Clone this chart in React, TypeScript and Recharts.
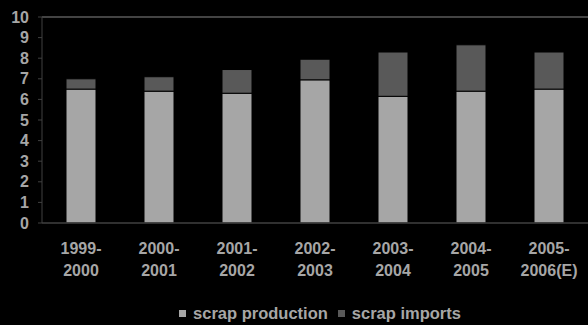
import { BarChart, Bar, XAxis, YAxis, ReferenceLine, Legend } from "recharts";

const years = [
  "1999-|2000",
  "2000-|2001",
  "2001-|2002",
  "2002-|2003",
  "2003-|2004",
  "2004-|2005",
  "2005-|2006(E)",
];
const production = [6.5, 6.4, 6.3, 6.95, 6.15, 6.4, 6.5];
const imports = [0.5, 0.7, 1.15, 1.0, 2.15, 2.25, 1.8];
const yTicks = [0, 1, 2, 3, 4, 5, 6, 7, 8, 9, 10];

const data = years.map((year, i) => ({
  year,
  production: production[i],
  imports: imports[i],
}));

const FONT = '"Liberation Sans", Arial, sans-serif';
const TEXT = "#a6a6a6";

function YearTick({ x, y, payload }: any) {
  const [a, b] = String(payload.value).split("|");
  return (
    <text
      x={x}
      y={y}
      textAnchor="middle"
      fill={TEXT}
      fontSize={16}
      fontWeight="bold"
      fontFamily={FONT}
    >
      <tspan x={x} dy={31}>
        {a}
      </tspan>
      <tspan x={x} dy={21.5}>
        {b}
      </tspan>
    </text>
  );
}

function LegendBox() {
  const items = [
    { label: "scrap production", color: "#a6a6a6" },
    { label: "scrap imports", color: "#595959" },
  ];
  return (
    <div
      style={{
        display: "flex",
        justifyContent: "center",
        alignItems: "center",
        paddingTop: 19,
        paddingLeft: 52,
        fontFamily: FONT,
        fontSize: 16.5,
        fontWeight: "bold",
        color: TEXT,
        lineHeight: "18px",
      }}
    >
      {items.map((it, i) => (
        <span
          key={it.label}
          style={{
            display: "flex",
            alignItems: "center",
            marginRight: i === 0 ? 10 : 0,
          }}
        >
          <span
            style={{
              width: 7,
              height: 7,
              background: it.color,
              marginRight: 7,
              display: "inline-block",
            }}
          />
          {it.label}
        </span>
      ))}
    </div>
  );
}

export default function App() {
  document.body.style.margin = "0";
  document.body.style.background = "#000";
  return (
    <div style={{ width: 588, height: 325, background: "#000" }}>
      <BarChart
        width={588}
        height={325}
        data={data}
        margin={{ top: 17, right: 0, left: 0, bottom: 0 }}
        barSize={30}
      >
        <XAxis
          dataKey="year"
          tick={<YearTick />}
          tickLine={false}
          tickSize={0}
          tickMargin={0}
          interval={0}
          height={62}
          axisLine={{ stroke: "#404040", strokeWidth: 1.5 }}
        />
        <YAxis
          domain={[0, 10]}
          ticks={yTicks}
          width={42}
          interval={0}
          tickSize={4}
          tickMargin={9}
          axisLine={{ stroke: "#404040" }}
          tickLine={{ stroke: "#404040" }}
          tick={{
            fill: TEXT,
            fontSize: 16,
            fontWeight: "bold",
            fontFamily: FONT,
          }}
        />
        <ReferenceLine y={10} stroke="#5a5a5a" strokeWidth={1.5} />
        <Legend
          verticalAlign="bottom"
          height={40}
          content={() => <LegendBox />}
        />
        <Bar
          dataKey="production"
          stackId="a"
          fill="#a6a6a6"
          stroke="#000"
          strokeWidth={1}
          isAnimationActive={false}
        />
        <Bar
          dataKey="imports"
          stackId="a"
          fill="#595959"
          stroke="#000"
          strokeWidth={1}
          isAnimationActive={false}
        />
      </BarChart>
    </div>
  );
}
